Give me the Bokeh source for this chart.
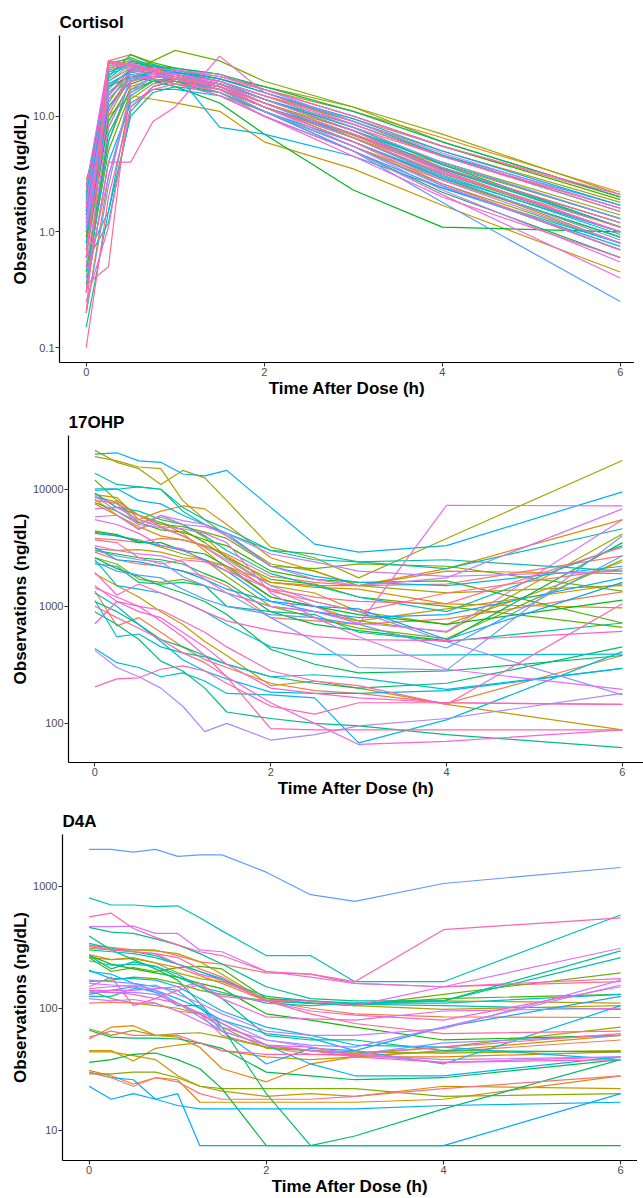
import math
from bokeh.plotting import figure
from bokeh.layouts import column
from bokeh.models import ColumnDataSource, FixedTicker, PrintfTickFormatter, Range1d
from bokeh.embed import file_html
from bokeh.resources import INLINE

# ---------------- data ----------------
x_ticks = [0, 2, 4, 6]

cortisol_time = [0, 0.25, 0.5, 0.75, 1, 1.5, 2, 3, 4, 6]
cortisol_ticks = [0.1, 1, 10]
cortisol_obs = [
    [2.8, 12, 22, 24, 22, 19, 14, 8.0, 4.5, 1.6],
    [1.5, 30, 34, 28, 24, 20, 15, 9.5, 5.5, 2.0],
    [0.3, 8, 20, 25, 23, 18, 12, 6.5, 3.5, 1.2],
    [1.1, 15, 26, 27, 25, 21, 17, 11, 6.5, 2.2],
    [0.5, 6, 18, 21, 20, 16, 11, 5.5, 2.8, 0.9],
    [2.0, 29, 31, 26, 23, 19, 13, 7.0, 3.8, 1.3],
    [0.2, 3, 14, 19, 21, 18, 12, 6.0, 3.0, 0.8],
    [0.9, 10, 15, 14, 13, 11, 6.0, 3.5, 1.7, 0.45],
    [0.8, 11, 24, 26, 24, 20, 15, 9.0, 5.0, 1.8],
    [1.8, 25, 28, 24, 21, 17, 12, 6.8, 3.4, 1.0],
    [2.2, 27, 30, 27, 25, 22, 18, 12, 7.0, 2.1],
    [0.6, 10, 22, 24, 22, 18, 13, 7.5, 4.0, 1.4],
    [1.3, 20, 26, 23, 20, 15, 11, 5.5, 2.6, 0.8],
    [0.9, 13, 25, 30, 37, 30, 20, 12, 6.0, 2.0],
    [0.4, 5, 16, 20, 20, 17, 12, 6.5, 3.2, 1.0],
    [1.7, 22, 34, 29, 26, 23, 17, 10, 5.5, 1.9],
    [1.4, 18, 22, 20, 18, 13, 7.0, 2.3, 1.1, 1.0],
    [0.7, 9, 19, 22, 21, 17, 11, 5.0, 2.2, 0.6],
    [2.5, 26, 29, 27, 26, 23, 18, 11, 6.0, 2.0],
    [0.45, 7, 17, 20, 21, 19, 14, 8.0, 3.8, 1.1],
    [1.2, 18, 25, 23, 21, 17, 12, 6.0, 2.9, 0.9],
    [0.15, 1.5, 10, 16, 18, 16, 11, 5.5, 2.5, 0.7],
    [1.4, 21, 30, 28, 25, 21, 16, 9.0, 4.6, 1.5],
    [0.55, 1.2, 11, 18, 20, 18, 13, 7.0, 3.5, 1.1],
    [1.9, 28, 32, 27, 24, 20, 14, 7.5, 3.6, 1.1],
    [0.35, 6, 21, 24, 23, 19, 14, 8.5, 4.6, 1.7],
    [1.0, 16, 23, 21, 19, 16, 11, 6.0, 3.0, 1.0],
    [0.6, 1.5, 15, 20, 22, 19, 14, 7.5, 3.9, 1.3],
    [2.1, 23, 27, 24, 22, 18, 13, 6.5, 3.1, 0.95],
    [1.6, 24, 28, 26, 24, 8.0, 7.0, 4.5, 2.4, 0.8],
    [0.3, 4, 13, 17, 17, 15, 10, 5.0, 2.4, 0.75],
    [1.5, 19, 24, 22, 21, 17, 12, 7.0, 3.6, 1.2],
    [0.8, 12, 20, 24, 24, 21, 16, 9.5, 5.0, 1.7],
    [1.0, 14, 22, 22, 21, 17, 11, 5.0, 1.8, 0.25],
    [0.2, 2.5, 17, 22, 22, 19, 13, 6.5, 3.0, 0.85],
    [1.1, 17, 26, 24, 23, 20, 15, 8.0, 4.0, 1.3],
    [1.3, 20, 28, 25, 22, 17, 11, 5.5, 2.5, 0.7],
    [0.4, 3, 16, 22, 25, 23, 17, 9.0, 4.8, 1.6],
    [1.8, 26, 29, 25, 22, 18, 12, 6.0, 2.8, 0.8],
    [0.5, 8, 20, 23, 22, 18, 12, 5.5, 2.3, 0.55],
    [2.4, 30, 27, 25, 23, 19, 13, 7.0, 3.3, 1.0],
    [0.7, 11, 22, 21, 19, 15, 10, 5.0, 2.1, 0.4],
    [1.2, 15, 24, 26, 25, 22, 17, 10, 5.5, 2.1],
    [0.25, 1.1, 12, 18, 21, 19, 14, 7.5, 3.4, 1.0],
    [1.6, 29, 25, 23, 21, 16, 10, 4.5, 2.0, 0.6],
    [0.3, 4.0, 4.0, 9.0, 12, 33, 16, 8.5, 4.5, 1.6],
    [0.6, 30, 28, 24, 23, 20, 15, 8.5, 4.5, 1.5],
    [0.1, 2.0, 12, 17, 19, 17, 12, 6.0, 2.6, 0.7],
    [0.35, 0.5, 20, 22, 21, 18, 13, 7.0, 3.6, 1.2],
    [0.2, 29, 27, 25, 22, 18, 12, 6.5, 3.2, 1.1],
]

ohp_time = [0, 0.25, 0.5, 0.75, 1, 1.25, 1.5, 2, 2.5, 3, 4, 6]
ohp_ticks = [100, 1000, 10000]
ohp_obs = [
    [3800, 3700, 3500, 3800, 3700, 3300, 2800, 1800, 1600, 1500, 1550, 2700],
    [2900, 2500, 2300, 2200, 2000, 1800, 1500, 800, 750, 700, 780, 1330],
    [1350, 680, 800, 600, 450, 350, 300, 220, 190, 180, 148, 380],
    [7500, 6000, 4800, 4000, 3700, 3300, 2700, 1600, 1500, 1500, 2000, 1900],
    [9000, 8500, 5500, 6500, 7200, 6800, 5000, 2600, 2000, 1500, 2100, 5500],
    [8200, 6000, 4600, 5200, 4200, 3000, 2100, 1200, 1000, 750, 950, 1550],
    [3100, 3000, 3050, 2900, 2600, 2500, 2200, 1600, 1450, 1400, 1050, 970],
    [1900, 1500, 1200, 900, 700, 500, 380, 210, 230, 200, 145, 88],
    [8600, 7800, 5200, 5800, 5000, 3900, 2600, 1500, 1300, 900, 700, 2400],
    [19000, 17500, 15500, 15000, 8000, 5500, 4000, 2300, 2000, 1500, 1300, 1500],
    [21500, 17000, 15000, 11000, 14500, 12500, 8000, 3200, 2600, 1750, 3800, 17600],
    [4300, 4000, 3700, 3200, 2800, 2500, 1800, 1000, 900, 750, 600, 4150],
    [2600, 2300, 1700, 1600, 1700, 1500, 1300, 1000, 800, 650, 530, 2500],
    [12000, 8000, 6000, 5000, 4800, 4300, 3800, 2200, 2100, 2300, 2200, 1350],
    [9200, 7000, 6000, 5200, 4500, 3500, 2600, 1700, 1550, 1200, 1000, 660],
    [7700, 6500, 5200, 4500, 4300, 3700, 3300, 2000, 1700, 1600, 1650, 720],
    [4400, 4100, 3500, 3500, 3000, 2800, 2200, 1200, 1000, 850, 700, 1130],
    [3000, 2800, 2600, 2500, 2300, 1900, 1600, 900, 700, 620, 510, 3500],
    [2600, 2100, 1800, 1500, 1300, 1100, 850, 430, 320, 270, 280, 380],
    [1100, 900, 700, 520, 450, 380, 320, 250, 220, 200, 220, 450],
    [900, 700, 520, 340, 280, 200, 125, 110, 100, 95, 80, 62],
    [2300, 2200, 1600, 1550, 1600, 1500, 1000, 900, 850, 600, 500, 720],
    [13700, 11000, 10500, 10000, 6500, 5000, 4200, 3000, 2800, 2400, 2500, 2000],
    [9800, 10000, 10500, 10000, 7000, 5500, 4600, 3000, 2500, 2400, 2100, 4600],
    [9300, 7000, 6500, 5500, 5000, 4000, 3000, 1900, 1500, 1200, 900, 3300],
    [2500, 1500, 1400, 1300, 1100, 900, 700, 450, 390, 380, 385, 390],
    [1120, 550, 580, 450, 400, 370, 320, 250, 260, 245, 195, 295],
    [435, 330, 300, 250, 270, 230, 180, 175, 165, 68, 107, 410],
    [1300, 1000, 700, 500, 350, 280, 240, 185, 180, 180, 190, 295],
    [10100, 10100, 8000, 7500, 6000, 5000, 4200, 2200, 1800, 1600, 1500, 2200],
    [20000, 20500, 17500, 17000, 13500, 13000, 14500, 7000, 3400, 2900, 3300, 9500],
    [4200, 4000, 3600, 3300, 3000, 2500, 2000, 1100, 900, 800, 850, 1750],
    [3200, 2500, 2400, 2200, 2000, 1700, 1400, 1100, 1000, 950, 520, 1600],
    [2400, 2000, 1850, 1750, 1400, 1150, 1000, 850, 800, 700, 440, 2700],
    [3000, 2700, 2500, 2400, 1800, 1500, 1300, 800, 500, 300, 285, 4000],
    [8800, 6500, 5000, 4700, 4000, 3200, 2500, 1500, 1100, 900, 500, 175],
    [420, 300, 250, 200, 140, 85, 100, 72, 80, 95, 110, 180],
    [5800, 6000, 4500, 6000, 5000, 4800, 4200, 2800, 2400, 2000, 1800, 2000],
    [8500, 7500, 5000, 6000, 5400, 5000, 4000, 2200, 1700, 1500, 1750, 6800],
    [3300, 3000, 2800, 2700, 2400, 1700, 1300, 1000, 900, 720, 610, 5500],
    [6800, 7000, 5500, 4800, 4600, 4200, 3500, 1300, 800, 550, 290, 195],
    [5500, 5000, 4200, 3300, 3100, 2400, 2000, 1400, 1000, 700, 7300, 7200],
    [1500, 1100, 1000, 750, 550, 380, 250, 150, 100, 66, 70, 88],
    [710, 1100, 900, 800, 600, 450, 320, 200, 180, 165, 150, 145],
    [1950, 1250, 1550, 1300, 1100, 900, 750, 620, 550, 520, 510, 610],
    [1440, 1200, 1000, 930, 750, 600, 450, 280, 230, 210, 145, 1050],
    [205, 240, 245, 290, 310, 280, 220, 140, 120, 150, 150, 145],
    [1000, 800, 650, 520, 400, 330, 250, 90, 88, 88, 88, 88],
    [3700, 3500, 2600, 2300, 2500, 2400, 2200, 1400, 1200, 1100, 1050, 3200],
    [8000, 7600, 6000, 4800, 4000, 3200, 2400, 1350, 1100, 900, 1300, 2100],
]

d4a_time = [0, 0.25, 0.5, 0.75, 1, 1.25, 1.5, 2, 2.5, 3, 4, 6]
d4a_ticks = [10, 100, 1000]
d4a_obs = [
    [325, 315, 300, 300, 270, 240, 230, 195, 190, 160, 150, 165],
    [110, 112, 110, 110, 95, 90, 60, 48, 42, 41, 44, 55],
    [260, 250, 260, 235, 215, 185, 160, 115, 100, 90, 85, 84],
    [56, 70, 72, 60, 58, 48, 32, 25, 35, 40, 40, 44],
    [31, 28, 24, 27, 26, 17, 17, 17, 17, 17, 18, 28],
    [45, 45, 37, 47, 50, 52, 45, 40, 38, 40, 45, 60],
    [44, 44, 41, 38, 28, 23, 21, 19, 20, 19, 23, 22],
    [310, 300, 300, 295, 280, 240, 190, 115, 110, 108, 115, 110],
    [275, 250, 255, 235, 195, 175, 165, 120, 110, 105, 98, 105],
    [140, 120, 110, 105, 100, 90, 70, 47, 45, 43, 48, 70],
    [68, 60, 66, 60, 62, 63, 58, 48, 45, 44, 43, 45],
    [29, 29, 30, 30, 27, 23, 22, 22, 22, 22, 19, 20],
    [165, 170, 180, 175, 160, 140, 130, 115, 110, 105, 130, 195],
    [260, 200, 215, 200, 215, 220, 210, 120, 115, 108, 120, 130],
    [270, 230, 210, 195, 180, 160, 145, 90, 80, 70, 55, 60],
    [36, 38, 42, 43, 38, 32, 22, 7.5, 7.5, 7.5, 7.5, 7.5],
    [66, 58, 57, 57, 56, 52, 47, 30, 28, 26, 27, 38],
    [390, 300, 250, 210, 170, 110, 70, 20, 7.5, 9, 15, 38],
    [270, 210, 240, 220, 180, 150, 120, 60, 55, 55, 45, 44],
    [460, 420, 410, 370, 330, 280, 230, 150, 120, 115, 115, 295],
    [340, 310, 290, 270, 230, 200, 170, 125, 115, 110, 115, 260],
    [300, 290, 280, 260, 230, 200, 175, 115, 110, 108, 105, 98],
    [800, 700, 700, 680, 690, 550, 430, 270, 270, 165, 165, 580],
    [245, 225, 230, 220, 190, 150, 135, 110, 105, 110, 110, 130],
    [125, 125, 145, 140, 120, 100, 80, 62, 57, 45, 35, 105],
    [205, 175, 175, 170, 150, 120, 95, 70, 60, 50, 48, 38],
    [200, 190, 160, 150, 140, 100, 75, 50, 35, 28, 28, 40],
    [30, 27, 26, 18, 16, 15, 15, 15, 15, 15, 16, 17],
    [23, 18, 20, 18, 20, 7.5, 7.5, 7.5, 7.5, 7.5, 7.5, 20],
    [130, 140, 150, 135, 105, 105, 65, 35, 47, 45, 70, 125],
    [2000, 2000, 1900, 2000, 1750, 1800, 1800, 1300, 850, 750, 1050, 1420],
    [170, 165, 160, 140, 110, 85, 65, 50, 45, 42, 52, 60],
    [135, 135, 135, 130, 110, 92, 80, 55, 50, 48, 70, 155],
    [145, 150, 155, 140, 110, 90, 70, 55, 48, 42, 38, 40],
    [160, 155, 150, 155, 130, 110, 90, 65, 60, 60, 68, 170],
    [465, 465, 470, 410, 410, 300, 290, 200, 180, 160, 150, 310],
    [120, 115, 118, 110, 95, 78, 65, 50, 48, 42, 36, 40],
    [140, 140, 140, 145, 150, 160, 120, 85, 82, 80, 95, 100],
    [320, 300, 290, 280, 230, 190, 170, 115, 95, 88, 80, 150],
    [150, 180, 105, 120, 140, 155, 125, 115, 115, 105, 150, 175],
    [140, 135, 130, 120, 110, 90, 75, 50, 45, 40, 36, 38],
    [560, 600, 450, 380, 330, 290, 270, 200, 190, 165, 440, 550],
    [58, 65, 60, 60, 60, 52, 45, 42, 42, 42, 48, 62],
    [330, 300, 290, 280, 260, 210, 180, 115, 90, 75, 62, 65],
    [30, 27, 23, 27, 25, 20, 18, 18, 18, 19, 22, 28],
]

FONT = "Liberation Sans"


def hcl_hex(h, c=100.0, l=65.0):
    hr = math.radians(h)
    U, V = c * math.cos(hr), c * math.sin(hr)
    Xn, Yn, Zn = 95.047, 100.0, 108.883
    Y = Yn * ((l + 16) / 116) ** 3
    den = Xn + 15 * Yn + 3 * Zn
    un, vn = 4 * Xn / den, 9 * Yn / den
    u, v = U / (13 * l) + un, V / (13 * l) + vn
    X = Y * 9 * u / (4 * v)
    Z = Y * (12 - 3 * u - 20 * v) / (4 * v)
    X, Y, Z = X / 100, Y / 100, Z / 100
    rgb = [3.2404542 * X - 1.5371385 * Y - 0.4985314 * Z,
           -0.9692660 * X + 1.8760108 * Y + 0.0415560 * Z,
           0.0556434 * X - 0.2040259 * Y + 1.0572252 * Z]
    out = []
    for ch in rgb:
        ch = 12.92 * ch if ch <= 0.0031308 else 1.055 * ch ** (1 / 2.4) - 0.055
        out.append(int(round(max(0.0, min(1.0, ch)) * 255)))
    return "#%02x%02x%02x" % tuple(out)


def hue_palette(n):
    return [hcl_hex(15 + 360.0 * i / n) for i in range(n)]


def make_panel(title, times, obs, ylab, yticks, yfmt, x_end, height, shift,
               b_top, b_bottom):
    n = len(obs)
    src = ColumnDataSource(dict(xs=[times] * n, ys=obs, color=hue_palette(n)))
    flat = [v for row in obs for v in row]
    lo, hi = math.log10(min(flat)), math.log10(max(flat))
    pad = 0.05 * (hi - lo)
    span = max(times) - min(times)
    p = figure(width=643, height=height, y_axis_type="log",
               x_range=Range1d(min(times) - 0.05 * span, x_end),
               y_range=Range1d(10 ** (lo - pad), 10 ** (hi + pad)),
               output_backend="svg", toolbar_location=None,
               min_border_left=68, min_border_right=0,
               min_border_top=b_top, min_border_bottom=b_bottom,
               styles={"margin-left": "%dpx" % (-shift)})
    p.multi_line(xs="xs", ys="ys", line_color="color", line_width=1.2, source=src)
    p.title.text = title
    p.title.text_font = FONT
    p.title.text_font_size = "17px"
    p.title.text_font_style = "bold"
    p.title.text_color = "black"
    p.title.align = "left"
    p.title.standoff = 7
    p.xaxis.ticker = FixedTicker(ticks=x_ticks)
    p.yaxis.ticker = FixedTicker(ticks=yticks)
    p.yaxis.formatter = PrintfTickFormatter(format=yfmt)
    p.xaxis.axis_label = "Time After Dose (h)"
    p.yaxis.axis_label = ylab
    for ax in (p.xaxis[0], p.yaxis[0]):
        ax.axis_line_color = "black"
        ax.axis_line_width = 1.2
        ax.major_tick_line_color = "#333333"
        ax.major_tick_line_width = 1.1
        ax.major_tick_out = 4
        ax.major_tick_in = 0
        ax.minor_tick_line_color = None
        ax.major_label_text_font = FONT
        ax.major_label_text_font_size = "11px"
        ax.major_label_text_color = "#4D4D4D"
        ax.major_label_standoff = 1
        ax.axis_label_text_font = FONT
        ax.axis_label_text_font_size = "17px"
        ax.axis_label_text_font_style = "bold"
        ax.axis_label_text_color = "black"
        ax.axis_label_standoff = 0
    p.xgrid.visible = False
    p.ygrid.visible = False
    p.outline_line_color = None
    p.background_fill_color = "white"
    p.border_fill_color = "white"
    return p


p1 = make_panel("Cortisol", cortisol_time, cortisol_obs, "Observations (ug/dL)",
                cortisol_ticks, "%.1f", 6.16, 400, 9, 35, 38)
p2 = make_panel("17OHP", ohp_time, ohp_obs, "Observations (ng/dL)",
                ohp_ticks, "%d", 6.24, 400, 0, 35, 38)
p3 = make_panel("D4A", d4a_time, d4a_obs, "Observations (ng/dL)",
                d4a_ticks, "%d", 6.19, 398, 6, 34, 37)

p = column(p1, p2, p3, spacing=0)
open("out.html", "w").write(file_html(p, INLINE))
